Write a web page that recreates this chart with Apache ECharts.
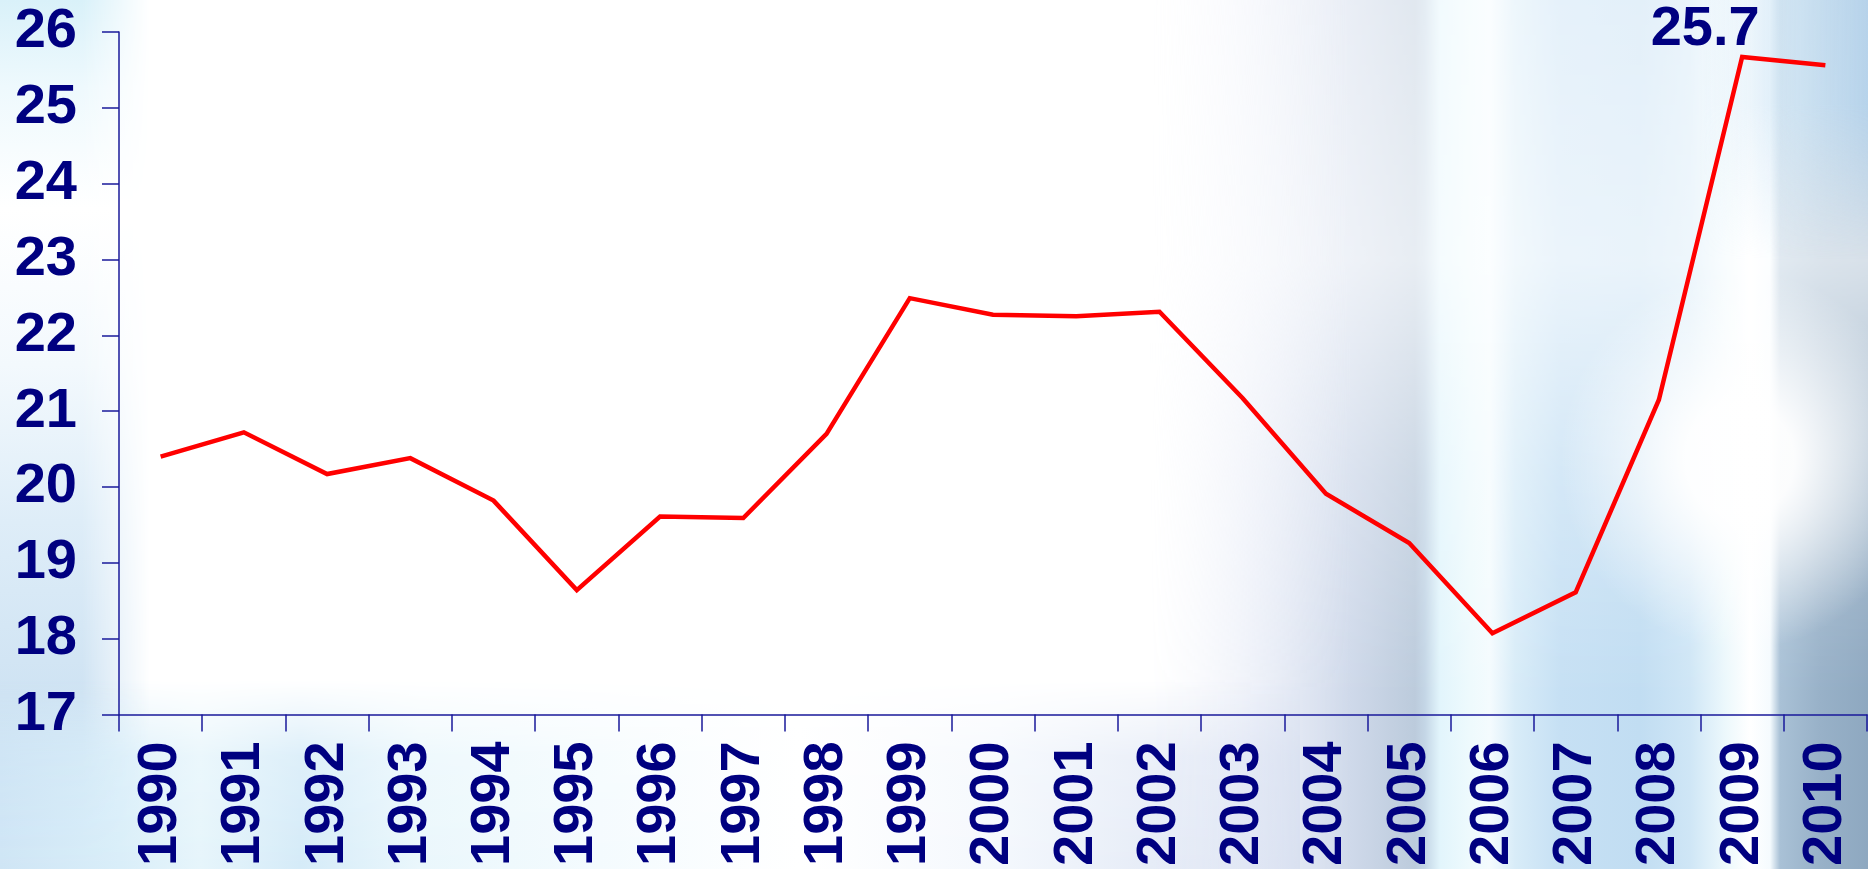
<!DOCTYPE html>
<html>
<head>
<meta charset="utf-8">
<script src="https://cdn.jsdelivr.net/npm/echarts@6/dist/echarts.min.js"></script>
<style>
  html, body { margin: 0; padding: 0; width: 1868px; height: 869px; overflow: hidden; background: #ffffff; }
  .layer { position: absolute; }
  #leftStrip {
    left: 0; top: 0; width: 150px; height: 869px;
    background: linear-gradient(to bottom, #d9f1f9 0%, #eef9fd 10%, #ffffff 24%, #f3f9fd 42%, #deedf8 60%, #cfe3f3 80%, #d3e8f6 100%);
    -webkit-mask-image: linear-gradient(to right, #000 55%, transparent 100%);
    mask-image: linear-gradient(to right, #000 55%, transparent 100%);
  }
  #bottomBand {
    left: 0; top: 680px; width: 1300px; height: 189px;
    background: linear-gradient(to right, #cfe5f5 0px, #d9eef9 120px, #e6f5fb 200px, #d5ebf8 300px, #eaf7fc 420px, #f4fbfe 600px, #ffffff 800px, #f4f8fd 1000px, #e6ecf7 1150px, #dfe6f4 1300px);
    -webkit-mask-image: linear-gradient(to bottom, transparent 0%, rgba(0,0,0,0.8) 40%, #000 100%);
    mask-image: linear-gradient(to bottom, transparent 0%, rgba(0,0,0,0.8) 40%, #000 100%);
  }
  #rightOuter {
    left: 1150px; top: 0; width: 718px; height: 869px;
    -webkit-mask-image: linear-gradient(to right, transparent 0px, #000 200px);
    mask-image: linear-gradient(to right, transparent 0px, #000 200px);
  }
  #rightInner {
    left: 0; top: 0; width: 718px; height: 869px;
    background: linear-gradient(to right,
      #eef1fa 0px, #dfe5f4 100px, #cfd9ea 200px, #bccbdc 265px, #c4d6e6 275px,
      #e2f5fc 290px, #eefafd 320px, #f4fbfe 340px, #d8ecf8 365px,
      #c6e0f4 410px, #c1ddf2 490px, #cfe6f6 540px, #ecf8fc 575px, #ffffff 600px,
      #f5fbfe 620px, #a9c1d6 630px, #98b1c8 670px, #8ea8c0 718px);
    -webkit-mask-image: linear-gradient(to bottom, rgba(0,0,0,0.45) 0%, rgba(0,0,0,0.35) 30%, rgba(0,0,0,0.75) 55%, #000 80%);
    mask-image: linear-gradient(to bottom, rgba(0,0,0,0.45) 0%, rgba(0,0,0,0.35) 30%, rgba(0,0,0,0.75) 55%, #000 80%);
  }
  #whiteSpot {
    left: 1500px; top: 250px; width: 368px; height: 420px;
    background: radial-gradient(ellipse 180px 190px at 240px 210px, rgba(255,255,255,0.95) 30%, rgba(255,255,255,0) 100%);
  }
  #topRight {
    left: 1700px; top: 0; width: 168px; height: 260px;
    background: linear-gradient(to right, rgba(220,238,250,0) 0%, rgba(200,226,244,0.7) 60%, rgba(180,210,235,0.9) 100%);
    -webkit-mask-image: linear-gradient(to bottom, #000 40%, transparent 100%);
    mask-image: linear-gradient(to bottom, #000 40%, transparent 100%);
  }
  #chart { position: absolute; left: 0; top: 0; width: 1868px; height: 869px; }
</style>
</head>
<body>
<div id="leftStrip" class="layer"></div>
<div id="bottomBand" class="layer"></div>
<div id="rightOuter" class="layer"><div id="rightInner" class="layer"></div></div>
<div id="whiteSpot" class="layer"></div>
<div id="topRight" class="layer"></div>
<div id="chart"></div>
<script>
// ---- data ----
const years = ['1990','1991','1992','1993','1994','1995','1996','1997','1998','1999','2000',
               '2001','2002','2003','2004','2005','2006','2007','2008','2009','2010'];
const values = [20.40, 20.72, 20.17, 20.38, 19.82, 18.64, 19.61, 19.59, 20.70, 22.49, 22.27,
                22.25, 22.31, 21.17, 19.91, 19.26, 18.07, 18.61, 21.15, 25.67, 25.56];
const labelledYear = '2009';
const yMin = 17, yMax = 26, yStep = 1;

const navy = '#000080';
const axisCol = '#1a1a9a';
const font = 'Liberation Sans, Arial, sans-serif';

const seriesData = values.map((v, i) =>
  years[i] === labelledYear
    ? { value: v, label: { show: true } }
    : v
);

const chart = echarts.init(document.getElementById('chart'), null, { renderer: 'canvas' });
chart.setOption({
  backgroundColor: 'transparent',
  animation: false,
  grid: { left: 119, right: 1, top: 32, bottom: 148, containLabel: false },
  xAxis: {
    type: 'category',
    data: years,
    boundaryGap: true,
    axisLine: { show: true, lineStyle: { color: axisCol, width: 1.5 } },
    axisTick: { show: true, inside: false, length: 17, lineStyle: { color: axisCol, width: 1.5 } },
    axisLabel: {
      rotate: 90, margin: 27, interval: 0,
      color: navy, fontSize: 56, fontWeight: 'bold', fontFamily: font
    },
    splitLine: { show: false }
  },
  yAxis: {
    type: 'value',
    min: yMin, max: yMax, interval: yStep,
    axisLine: { show: true, lineStyle: { color: axisCol, width: 1.5 } },
    axisTick: { show: true, inside: false, length: 17, lineStyle: { color: axisCol, width: 1.5 } },
    axisLabel: {
      margin: 42,
      color: navy, fontSize: 56, fontWeight: 'bold', fontFamily: font
    },
    splitLine: { show: false }
  },
  series: [{
    type: 'line',
    data: seriesData,
    showSymbol: true,
    symbol: 'circle',
    symbolSize: 0.01,
    itemStyle: { color: 'rgba(255,0,0,0)' },
    lineStyle: { color: '#ff0000', width: 4.5, join: 'miter' },
    emphasis: { disabled: true },
    label: {
      show: false,
      position: 'top',
      distance: 2,
      offset: [-37, 3],
      color: navy, fontSize: 56, fontWeight: 'bold', fontFamily: font,
      formatter: p => p.value.toFixed(1)
    }
  }]
});
</script>
</body>
</html>
